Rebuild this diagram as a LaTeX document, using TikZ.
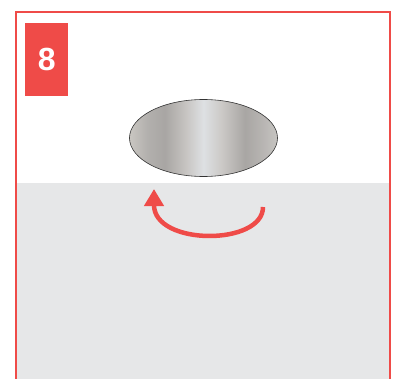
\documentclass[tikz,border=0pt]{standalone}
\usepackage{fontspec}
\setsansfont{Liberation Sans}
\usepackage{tikz}
\usetikzlibrary{arrows.meta,calc,positioning,shapes.geometric}
\definecolor{stepred}{RGB}{239,75,72}
\definecolor{tablegray}{RGB}{230,231,232}
\pgfdeclarehorizontalshading{metal}{100bp}{%
  rgb(0bp)=(0.79,0.78,0.76);
  rgb(25bp)=(0.79,0.78,0.76);
  rgb(31bp)=(0.70,0.69,0.68);
  rgb(37bp)=(0.66,0.65,0.64);
  rgb(44bp)=(0.78,0.77,0.76);
  rgb(50bp)=(0.87,0.88,0.89);
  rgb(56bp)=(0.80,0.79,0.78);
  rgb(64bp)=(0.66,0.65,0.64);
  rgb(70bp)=(0.72,0.71,0.70);
  rgb(75bp)=(0.78,0.77,0.76);
  rgb(100bp)=(0.78,0.77,0.76)}
\tikzset{
  framebox/.style={draw=stepred, line width=2pt},
  stepbadge/.style={fill=stepred, text=white, minimum width=43pt, minimum height=73pt, inner sep=0pt,
    font=\sffamily\bfseries\fontsize{32}{32}\selectfont},
  coin/.style={ellipse, draw=black!80, line width=0.6pt, shading=metal, minimum width=148pt, minimum height=77pt},
  turnarrow/.style={draw=stepred, line width=4.5pt, -{Triangle[length=17pt,width=19pt]}}
}
\begin{document}
\begin{tikzpicture}[x=1pt, y=-1pt]
  \useasboundingbox (0,0) rectangle (398,379);
  \clip (0,0) rectangle (398,379);
  % table surface
  \fill[tablegray] (16,183) rectangle (390,390);
  \draw[framebox] (16,12) rectangle (390,400);
  \node[stepbadge, anchor=north west] (badge) at (25,23) {8};
  \node[coin] (coin) at (203.5,138) {};
  % turning direction
  \coordinate (start) at (263,207);
  \coordinate (tip) at (154,189);
  \draw[turnarrow] (start) .. controls (263,246) and (154,246) .. (tip);
\end{tikzpicture}
\end{document}
